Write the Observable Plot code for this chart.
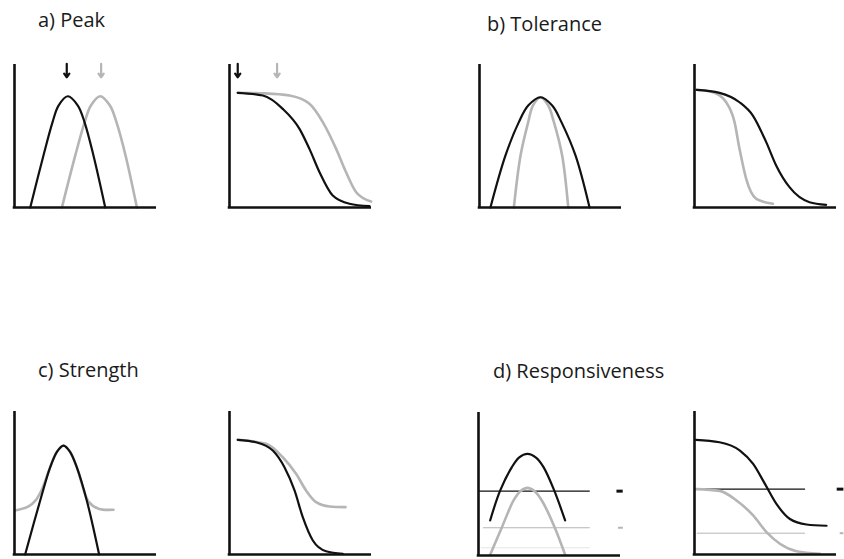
<!DOCTYPE html>
<html><head><meta charset="utf-8">
<script src="https://cdn.jsdelivr.net/npm/d3@7"></script>
<script src="https://cdn.jsdelivr.net/npm/@observablehq/plot@0.6"></script>
<style>
body{margin:0;background:#fff;}
#wrap{position:relative;width:844px;height:559px;overflow:hidden;background:#fff;font-family:"Open Sans",sans-serif;}
.title{position:absolute;font-size:20px;color:#1a1a1a;line-height:1;white-space:nowrap;}
.panel{position:absolute;}
</style></head><body><div id="wrap"></div><script>
// ---- data (x, y in axis units 0–100) ----
const titles = ["a) Peak", "b) Tolerance", "c) Strength", "d) Responsiveness"];

const a1Black = [[11.1,0],[20.4,36.4],[26.8,59.7],[31,71.3],[37.5,77.8],[44.6,71.3],[49.3,59.7],[55.6,36.4],[63.9,0]];
const a1Gray  = [[33.4,0],[42.8,36.4],[49.4,59.7],[53.8,71.3],[60.3,77.8],[67.2,71.3],[71.8,59.7],[78.2,36.4],[86.2,0]];
const a1Arrows = [{x:36.8, y1:100.5, y2:91, c:"black"}, {x:61, y1:100.5, y2:91, c:"gray"}];

const a2Black = [[5.8,80.2],[23.5,78.3],[37.5,69],[49.3,55],[56.3,41],[63.4,24.7],[72.7,8.4],[84.5,2.6],[98.6,0.9]];
const a2Gray  = [[5.8,80.2],[25,79.8],[42.3,78.3],[56.3,72.5],[65.7,59.7],[75.1,41],[82.1,24.7],[89.2,10.7],[99.7,4.2]];
const a2Arrows = [{x:5.8, y1:100.5, y2:91, c:"black"}, {x:33.5, y1:100.5, y2:91, c:"gray"}];

const b1Black = [[7.7,0],[18.3,36.4],[27.7,59.7],[34.3,71.3],[43,77.1],[51.2,71.3],[57.7,59.7],[67.6,36.4],[77.5,0]];
const b1Gray  = [[24.2,0],[28.9,36.4],[34.3,59.7],[37.6,71.3],[43,77.1],[48.4,71.3],[52.4,59.7],[58.2,36.4],[62.5,0]];

const b2Black = [[1.4,82.3],[17.6,80.2],[31.7,73.6],[41.1,64.3],[50.5,45.7],[57.5,29.4],[66.9,14.2],[81,3.7],[92.7,1.9]];
const b2Gray  = [[1.4,82.3],[13,80.6],[22.3,73.6],[28.2,59.7],[31.7,41],[36.4,20],[43.5,6.1],[55.2,2.6]];

const c1Black = [[7.5,0],[18.1,37.8],[25.1,61],[30,72],[34.5,76.2],[39,72],[43.9,61],[50.9,37.8],[59.6,0]];
const c1Gray  = [[0.5,30.8],[9.9,33.6],[15,38],[19.5,46],[25.1,61],[30,72],[34.5,76.2],[39,72],[43.9,61],[48.5,46],[52.1,37],[59.2,32],[69.7,31.3]];

const c2Black = [[5.8,80.2],[18.7,78.5],[30.5,72.7],[38.7,61],[45.8,44.8],[51.6,26.1],[58.7,9.8],[68,2.3],[79.8,0.5]];
const c2Gray  = [[5.8,80.2],[25.8,77.4],[37.5,68],[46.9,56.4],[53.9,44.8],[61,36.6],[70.4,33.6],[81.7,33.1]];

const d1Black = [[8.2,24.5],[15.3,45.5],[23.5,61.8],[28.5,68.5],[34.5,71.1],[40.5,68.5],[45.8,61.8],[53.3,45.5],[61,24.5]];
const d1Gray  = [[8.2,0.5],[16.5,19.8],[24.7,38.5],[29.5,45],[34.5,47.3],[39.5,45],[44.6,38.5],[53.6,19.8],[61,0.5]];
const d1Levels = [{y:45, x1:0, x2:78.7, c:"black"}, {y:19.4, x1:3.5, x2:78.7, c:"gray"}, {y:5.4, x1:2, x2:78.7, c:"faint"}];
const d1Marks  = [{y:45, x1:97.5, x2:101.9, c:"black"}, {y:19.4, x1:98.6, x2:102, c:"gray"}];

const d2Black = [[1,80.2],[17.6,78.5],[32,72.7],[41.3,63.4],[49.6,49.4],[57.7,35.4],[67.2,24.8],[78.9,21],[93,20.1]];
const d2Gray  = [[1,45.7],[17.6,44.5],[29.6,37.8],[41.3,27.3],[50.7,15.6],[60.1,7.5],[71.8,2.3],[88.3,0.5]];
const d2Levels = [{y:45.7, x1:0, x2:78.2, c:"black"}, {y:14.9, x1:2, x2:78.2, c:"gray"}];
const d2Marks  = [{y:45.7, x1:100.5, x2:105.2, c:"black"}, {y:14.9, x1:102.6, x2:105.2, c:"gray"}];

// ---- layout & style ----
const COL = {black:"#111", gray:"#b5b5b5", faint:"#e6e6e6"};
const LW = {black:1.2, gray:1, faint:1};
const PW = 142, PH = 143, ML = 8, MR = 12, MT = 8, MB = 6;

const panels = [
  {left:14,    bottom:207, black:a1Black, gray:a1Gray, arrows:a1Arrows, curve:"catmull-rom"},
  {left:228.7, bottom:207, black:a2Black, gray:a2Gray, arrows:a2Arrows, curve:"monotone-x"},
  {left:479.3, bottom:207, black:b1Black, gray:b1Gray, curve:"catmull-rom"},
  {left:694.3, bottom:207, black:b2Black, gray:b2Gray, curve:"monotone-x"},
  {left:14,    bottom:554, black:c1Black, gray:c1Gray, curve:"catmull-rom"},
  {left:228.7, bottom:554, black:c2Black, gray:c2Gray, curve:"monotone-x"},
  {left:478.3, bottom:555, black:d1Black, gray:d1Gray, levels:d1Levels, marks:d1Marks, curve:"catmull-rom"},
  {left:694.3, bottom:554, black:d2Black, gray:d2Gray, levels:d2Levels, marks:d2Marks, curve:"monotone-x"}
];
const titlePos = [{left:38, top:10}, {left:487, top:14}, {left:38, top:360}, {left:493, top:361}];

const wrap = document.getElementById("wrap");

titles.forEach((t, i) => {
  const d = document.createElement("div");
  d.className = "title";
  d.textContent = t;
  d.style.left = titlePos[i].left + "px";
  d.style.top = titlePos[i].top + "px";
  wrap.appendChild(d);
});

for (const p of panels) {
  const marks = [];
  if (p.levels) marks.push(Plot.ruleY(p.levels, {y:"y", x1:"x1", x2:"x2", stroke:d => COL[d.c], strokeWidth:d => LW[d.c]}));
  if (p.marks) marks.push(Plot.ruleY(p.marks, {y:"y", x1:"x1", x2:"x2", stroke:d => COL[d.c], strokeWidth:d => d.c === "black" ? 3 : 2}));
  marks.push(Plot.line(p.gray, {x:d => d[0], y:d => d[1], stroke:COL.gray, strokeWidth:2.6, curve:p.curve}));
  marks.push(Plot.line(p.black, {x:d => d[0], y:d => d[1], stroke:COL.black, strokeWidth:2.2, curve:p.curve}));
  if (p.arrows) marks.push(Plot.arrow(p.arrows, {x1:"x", x2:"x", y1:"y1", y2:"y2", stroke:d => COL[d.c], strokeWidth:2.2, headLength:4, headAngle:70}));
  marks.push(Plot.ruleX([0], {y1:0, y2:100, stroke:"#111", strokeWidth:2.6}));
  marks.push(Plot.ruleY([0], {x1:-0.9, x2:100, stroke:"#111", strokeWidth:2.6}));

  const svg = Plot.plot({
    width: ML + PW + MR, height: MT + PH + MB,
    marginLeft: ML, marginRight: MR, marginTop: MT, marginBottom: MB,
    x: {domain:[0,100], axis:null},
    y: {domain:[0,100], axis:null},
    style: {background:"transparent", overflow:"visible"},
    marks
  });
  svg.classList.add("panel");
  svg.style.position = "absolute";
  svg.style.left = (p.left - ML) + "px";
  svg.style.top = (p.bottom - PH - MT) + "px";
  wrap.appendChild(svg);
}
</script></body></html>
